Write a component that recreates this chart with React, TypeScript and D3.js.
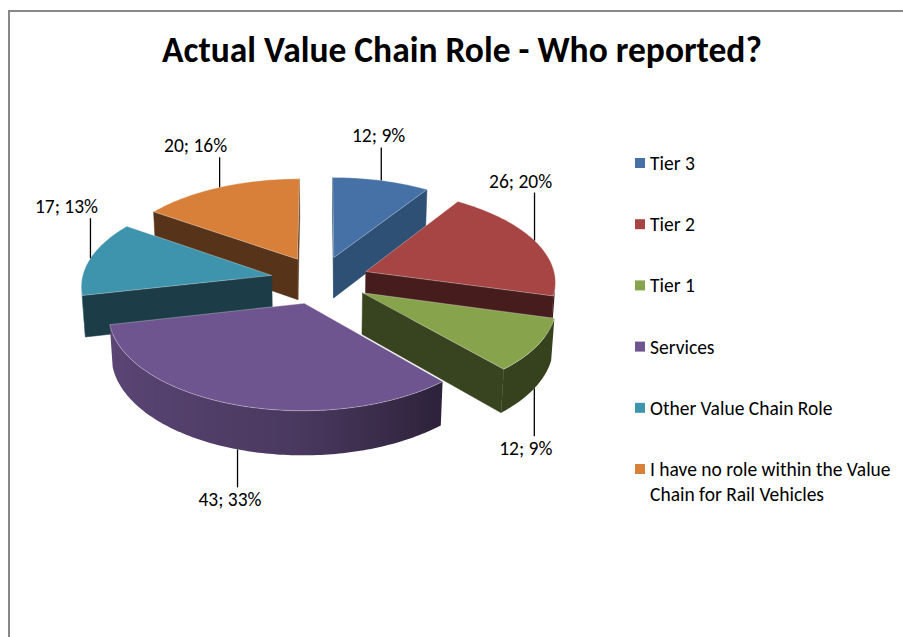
import React from "react";
import * as d3 from "d3";

// ---------- data ----------
const title = "Actual Value Chain Role - Who reported?";
const categories = [
  "Tier 3",
  "Tier 2",
  "Tier 1",
  "Services",
  "Other Value Chain Role",
  "I have no role within the Value Chain for Rail Vehicles",
];
const legendLines = [
  ["Tier 3"],
  ["Tier 2"],
  ["Tier 1"],
  ["Services"],
  ["Other Value Chain Role"],
  ["I have no role within the Value", "Chain for Rail Vehicles"],
];
const values = [12, 26, 12, 43, 17, 20];
const percentLabels = ["9%", "20%", "9%", "33%", "13%", "16%"];
const topColors = ["#4571a7", "#a64543", "#87a44c", "#6f558f", "#3f94ad", "#d8803a"];
const cutColors = ["#2e5075", "#471c1c", "#37441f", "#2b2039", "#1c3c47", "#573419"];

// ---------- layout ----------
const W = 903;
const H = 637;
const CX = 320;
const CY = 280;
const S0 = 190;
const DIST = 9;
const ALPHA = (29 * Math.PI) / 180;
const THICK = 0.25;
const EXPLODE = 0.26;
const leaderLen = [33, 48, 48, 38, 40, 30];
const labelFrac = [0.55, 0.72, 0.66, 0.62, 0.88, 0.88];
const FONT = "Calibri, Carlito, Lato, sans-serif";
const LABEL_SIZE = 19.5;
const LEGEND_SIZE = 19.5;
const TITLE_SIZE = 35.5;
const LEGEND_X = 635;
const LEGEND_TOP = 163;
const LEGEND_STEP = 61.2;

type P3 = [number, number, number];

function measure(text: string, font: string): number {
  const c = document.createElement("canvas");
  const ctx = c.getContext("2d");
  if (!ctx) return text.length * 8;
  ctx.font = font;
  return ctx.measureText(text).width;
}

export default function App() {
  const sa = Math.sin(ALPHA);
  const ca = Math.cos(ALPHA);
  const cam: P3 = [0, DIST * sa, -DIST * ca];
  const proj = (p: P3): [number, number] => {
    const [X, Y, Z] = p;
    const d = DIST + Z * ca - Y * sa;
    const k = (S0 * DIST) / d;
    return [CX + X * k, CY - (Y * ca + Z * sa) * k];
  };
  const visible = (n: P3, p: P3) =>
    n[0] * (cam[0] - p[0]) + n[1] * (cam[1] - p[1]) + n[2] * (cam[2] - p[2]) > 0;
  const poly = (pts: P3[]) => (d3.line()(pts.map(proj)) || "") + "Z";
  const shade = (hex: string, f: number) => {
    const c = d3.rgb(hex);
    return d3.rgb(c.r * f, c.g * f, c.b * f).formatHex();
  };
  const sideFactor = (t: number) => {
    const s = -Math.sin(t);
    return Math.max(0.4, 0.66 + (s > 0 ? 0.155 * s : 0.39 * s));
  };

  const arcs = d3
    .pie<number>()
    .sort(null)
    .value((d) => d)(values);

  const gradients: JSX.Element[] = [];

  const slices = arcs.map((a, i) => {
    const a0 = a.startAngle;
    const a1 = a.endAngle;
    const m = (a0 + a1) / 2;
    const ox = EXPLODE * Math.sin(m);
    const oz = EXPLODE * Math.cos(m);
    const rim = (t: number, y: number): P3 => [ox + Math.sin(t), y, oz + Math.cos(t)];
    const apex = (y: number): P3 => [ox, y, oz];
    const N = Math.max(4, Math.ceil(((a1 - a0) * 180) / Math.PI));
    const ts = d3.range(N + 1).map((k) => a0 + ((a1 - a0) * k) / N);

    const faces: { d: string; fill: string; key: string; top?: boolean }[] = [];

    // radial cut faces
    const n0: P3 = [-Math.cos(a0), 0, Math.sin(a0)];
    const f0: P3[] = [apex(0), rim(a0, 0), rim(a0, -THICK), apex(-THICK)];
    if (visible(n0, rim(a0, -THICK / 2)))
      faces.push({ d: poly(f0), fill: cutColors[i], key: "c0" });
    const n1: P3 = [Math.cos(a1), 0, -Math.sin(a1)];
    const f1: P3[] = [apex(0), rim(a1, 0), rim(a1, -THICK), apex(-THICK)];
    if (visible(n1, rim(a1, -THICK / 2)))
      faces.push({ d: poly(f1), fill: cutColors[i], key: "c1" });

    // outer curved side: contiguous visible runs
    const vis = ts.slice(0, -1).map((t, k) => {
      const tm = (t + ts[k + 1]) / 2;
      return visible([Math.sin(tm), 0, Math.cos(tm)], rim(tm, -THICK / 2));
    });
    let k = 0;
    let run = 0;
    while (k < vis.length) {
      if (!vis[k]) {
        k++;
        continue;
      }
      let j = k;
      while (j < vis.length && vis[j]) j++;
      const tsr = ts.slice(k, j + 1);
      const pts: P3[] = [
        ...tsr.map((t) => rim(t, 0)),
        ...tsr
          .slice()
          .reverse()
          .map((t) => rim(t, -THICK)),
      ];
      const id = `side-${i}-${run}`;
      const xs = tsr.map((t) => proj(rim(t, -THICK / 2))[0]);
      const x1 = xs[0];
      const x2 = xs[xs.length - 1];
      const span = x2 - x1 || 1;
      gradients.push(
        <linearGradient key={id} id={id} gradientUnits="userSpaceOnUse" x1={x1} y1={0} x2={x2} y2={0}>
          {tsr.map((t, q) => (
            <stop
              key={q}
              offset={Math.min(1, Math.max(0, (xs[q] - x1) / span))}
              stopColor={shade(topColors[i], sideFactor(t))}
            />
          ))}
        </linearGradient>
      );
      faces.push({ d: poly(pts), fill: `url(#${id})`, key: id });
      run++;
      k = j;
    }

    // top face
    const top: P3[] = [apex(0), ...ts.map((t) => rim(t, 0))];
    faces.push({ d: poly(top), fill: topColors[i], key: "top", top: true });

    const cen: P3 = [ox + 0.5 * Math.sin(m), -THICK / 2, oz + 0.5 * Math.cos(m)];
    const dist = Math.hypot(cen[0] - cam[0], cen[1] - cam[1], cen[2] - cam[2]);

    // label leader
    const above = Math.cos(m) >= 0;
    const [lx, ly] = proj(rim(m, above ? 0 : -THICK));
    const y2 = above ? ly - leaderLen[i] : ly + leaderLen[i];
    const text = `${values[i]}; ${percentLabels[i]}`;
    const tw = measure(text, `${LABEL_SIZE}px ${FONT}`);
    const tx = lx - labelFrac[i] * tw;
    const ty = above ? y2 - 5 : y2 + 19;

    return { i, faces, dist, lx, ly, y2, text, tx, ty };
  });

  const order = slices.slice().sort((p, q) => q.dist - p.dist);

  return (
    <svg
      width={W}
      height={H}
      style={{ position: "absolute", left: 0, top: 0, background: "#fff" }}
      fontFamily={FONT}
    >
      <defs>{gradients}</defs>
      <rect x={0} y={0} width={W} height={H} fill="#ffffff" />
      <path d={`M9,${H + 5}V11H${W + 5}`} fill="none" stroke="#898989" strokeWidth={2} />
      <text x={462} y={62} textAnchor="middle" fontSize={TITLE_SIZE} fontWeight="bold" fill="#000">
        {title}
      </text>
      <g>
        {order.map((s) => (
          <g key={categories[s.i]}>
            {s.faces.map((f) => (
              <path
                key={f.key}
                d={f.d}
                fill={f.fill}
                stroke={f.top ? "rgba(255,255,255,0.35)" : f.fill.startsWith("url") ? "none" : f.fill}
                strokeWidth={f.top ? 0.9 : 0.5}
                strokeLinejoin="round"
              />
            ))}
          </g>
        ))}
      </g>
      <g>
        {slices.map((s) => (
          <g key={"lab" + s.i}>
            <line x1={s.lx} y1={s.ly} x2={s.lx} y2={s.y2} stroke="#000" strokeWidth={1.3} />
            <text x={s.tx} y={s.ty} fontSize={LABEL_SIZE} fill="#000">
              {s.text}
            </text>
          </g>
        ))}
      </g>
      <g>
        {categories.map((c, i) => {
          const yc = LEGEND_TOP + i * LEGEND_STEP;
          return (
            <g key={"leg" + c}>
              <rect x={LEGEND_X} y={yc - 5} width={10} height={10} fill={topColors[i]} />
              <text x={LEGEND_X + 15} y={yc + 7} fontSize={LEGEND_SIZE} fill="#000">
                {legendLines[i].map((ln, q) => (
                  <tspan key={q} x={LEGEND_X + 15} dy={q === 0 ? 0 : 25}>
                    {ln}
                  </tspan>
                ))}
              </text>
            </g>
          );
        })}
      </g>
    </svg>
  );
}
